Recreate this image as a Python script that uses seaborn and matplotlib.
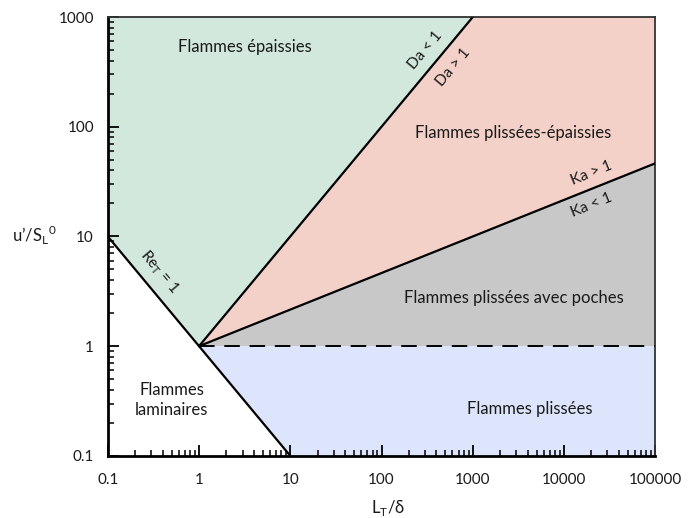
import matplotlib
matplotlib.use("Agg")
import matplotlib.pyplot as plt
import seaborn as sns
import pandas as pd
from matplotlib.ticker import LogLocator, FixedLocator, NullFormatter

sns.set_theme(style="ticks")
plt.rcParams['font.family'] = ['Lato', 'DejaVu Sans']
plt.rcParams['mathtext.fontset'] = 'custom'
plt.rcParams['mathtext.rm'] = 'Lato'

# boundary lines
re_x = [0.1, 1, 10]
re_y = [10, 1, 0.1]
da_x = [1, 1000]
da_y = [1, 1000]
ka_x = [1, 100000]
ka_y = [1, 46.4]
dash_x = [1, 100000]
dash_y = [1, 1]

x_ticks = [0.1, 1, 10, 100, 1000, 10000, 100000]
x_labels = ["0.1", "1", "10", "100", "1000", "10000", "100000"]
y_ticks = [0.1, 1, 10, 100, 1000]
y_labels = ["0.1", "1", "10", "100", "1000"]

c_green = "#d3e8dd"
c_pink = "#f3d1c8"
c_gray = "#c8c8c8"
c_blue = "#dce5fb"

fig = plt.figure(figsize=(7, 5.18), dpi=100)
ax = fig.add_axes([0.154, 0.12, 0.782, 0.847])
ax.set_xscale("log")
ax.set_yscale("log")
xmin, xmax = x_ticks[0], x_ticks[-1]
ymin, ymax = y_ticks[0], y_ticks[-1]

# regions
ax.fill([re_x[0], re_x[1], da_x[1], xmin], [re_y[0], re_y[1], da_y[1], ymax], color=c_green, lw=0, zorder=0)
ax.fill([da_x[0], da_x[1], xmax, ka_x[1]], [da_y[0], da_y[1], ymax, ka_y[1]], color=c_pink, lw=0, zorder=0)
ax.fill([ka_x[0], ka_x[1], dash_x[1]], [ka_y[0], ka_y[1], dash_y[1]], color=c_gray, lw=0, zorder=0)
ax.fill([dash_x[0], dash_x[1], xmax, re_x[2]], [dash_y[0], dash_y[1], ymin, re_y[2]], color=c_blue, lw=0, zorder=0)

for xs, ys in [(re_x, re_y), (da_x, da_y), (ka_x, ka_y)]:
    sns.lineplot(data=pd.DataFrame({"x": xs, "y": ys}), x="x", y="y", ax=ax,
                 color="black", lw=1.6, sort=False, estimator=None, zorder=3)
sns.lineplot(data=pd.DataFrame({"x": dash_x, "y": dash_y}), x="x", y="y", ax=ax,
             color="black", lw=1.4, sort=False, estimator=None, zorder=3,
             linestyle=(0, (8, 5)))

ax.set_xlim(xmin, xmax)
ax.set_ylim(ymin, ymax)
ax.xaxis.set_major_locator(FixedLocator(x_ticks))
ax.set_xticklabels(x_labels)
ax.yaxis.set_major_locator(FixedLocator(y_ticks))
ax.set_yticklabels(y_labels)
ax.xaxis.set_minor_locator(LogLocator(base=10, subs=range(2, 10), numticks=20))
ax.yaxis.set_minor_locator(LogLocator(base=10, subs=range(2, 10), numticks=20))
ax.xaxis.set_minor_formatter(NullFormatter())
ax.yaxis.set_minor_formatter(NullFormatter())
ax.tick_params(which="major", direction="in", length=8, width=1.3, labelsize=11, color="black", labelcolor="#1a1a1a")
ax.tick_params(axis="x", which="major", pad=12)
ax.tick_params(axis="y", which="major", pad=10)
ax.tick_params(which="minor", direction="in", length=4.5, width=1.1, color="black")
ax.tick_params(axis="x", which="both", top=False)
ax.tick_params(axis="y", which="both", right=False)

for side in ["left", "bottom"]:
    ax.spines[side].set_linewidth(2)
    ax.spines[side].set_color("black")
for side in ["top", "right"]:
    ax.spines[side].set_linewidth(1.3)
    ax.spines[side].set_color("#333333")

ax.set_xlabel("")
ax.set_ylabel("")
fig.text(0.554, 0.02, r"L$_\mathregular{T}$/δ", ha="center", va="center", fontsize=12, color="#1a1a1a")
fig.text(0.049, 0.546, r"u’/S$_\mathregular{L}$$^\mathregular{0}$", ha="center", va="center", fontsize=12, color="#1a1a1a")

fs = 12
tc = "#1a1a1a"
ax.text(3.2, 530, "Flammes épaissies", ha="center", va="center", fontsize=fs, color=tc)
ax.text(2800, 88, "Flammes plissées-épaissies", ha="center", va="center", fontsize=fs, color=tc)
ax.text(2800, 2.75, "Flammes plissées avec poches", ha="center", va="center", fontsize=fs, color=tc)
ax.text(4200, 0.27, "Flammes plissées", ha="center", va="center", fontsize=fs, color=tc)
ax.text(0.5, 0.32, "Flammes\nlaminaires", ha="center", va="center", fontsize=fs, linespacing=1.3, color=tc)

fl = 11
ax.text(0.37, 4.75, r"Re$_\mathregular{T}$ = 1", ha="center", va="center", fontsize=fl, rotation=-50, color=tc)
ax.text(300, 500, "Da < 1", ha="center", va="center", fontsize=fl, rotation=50, color=tc)
ax.text(607, 350, "Da > 1", ha="center", va="center", fontsize=fl, rotation=50, color=tc)
ax.text(20300, 38, "Ka > 1", ha="center", va="center", fontsize=fl, rotation=22, color=tc)
ax.text(20300, 19.4, "Ka < 1", ha="center", va="center", fontsize=fl, rotation=22, color=tc)

fig.savefig("out.png", dpi=100)
